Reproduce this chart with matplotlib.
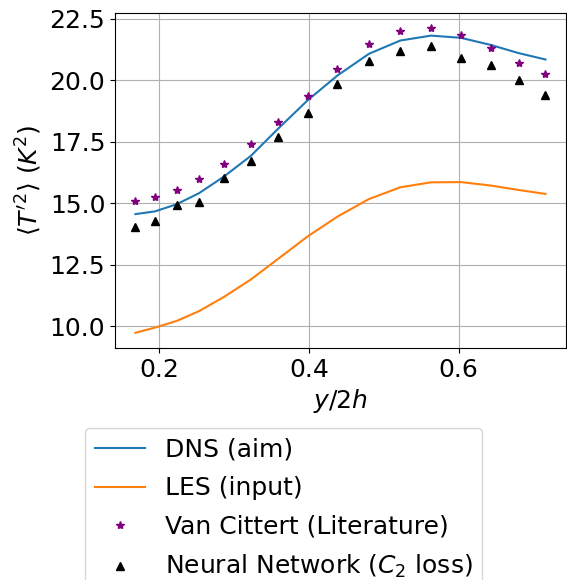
import numpy as np
import matplotlib
matplotlib.use("Agg")
import matplotlib.pyplot as plt

# wall-normal positions y/2h
y2h = [0.168, 0.194, 0.223, 0.253, 0.286, 0.322, 0.359, 0.398,
       0.438, 0.480, 0.522, 0.563, 0.603, 0.643, 0.680, 0.716]

# temperature variance <T'^2> (K^2)
dns = [14.56, 14.67, 14.96, 15.41, 16.08, 16.92, 18.04, 19.18,
       20.19, 21.07, 21.61, 21.81, 21.72, 21.43, 21.10, 20.84]
les = [9.74, 9.95, 10.22, 10.62, 11.19, 11.90, 12.75, 13.65,
       14.46, 15.17, 15.65, 15.85, 15.86, 15.72, 15.54, 15.38]
van_cittert = [15.11, 15.25, 15.53, 15.97, 16.59, 17.39, 18.29, 19.36,
               20.47, 21.48, 22.01, 22.11, 21.83, 21.30, 20.69, 20.26]
neural_net = [14.02, 14.30, 14.91, 15.04, 16.01, 16.72, 17.70, 18.68,
              19.86, 20.77, 21.18, 21.37, 20.90, 20.60, 20.02, 19.41]

plt.rcParams['font.size'] = 18

fig = plt.figure(figsize=(5.67, 5.8), dpi=100)
ax = fig.add_axes([0.2028, 0.40, 0.7954, 0.5776])

ax.plot(y2h, dns, label="DNS (aim)")
ax.plot(y2h, les, label="LES (input)")
ax.plot(y2h, van_cittert, '*', color='purple', markersize=6,
        label="Van Cittert (Literature)")
ax.plot(y2h, neural_net, '^', color='black', markersize=6,
        label="Neural Network ($C_2$ loss)")

ax.set_xlabel("$y/2h$")
ax.set_ylabel(r"$\langle T'^2 \rangle$ $(K^2)$")
ax.set_yticks([10.0, 12.5, 15.0, 17.5, 20.0, 22.5])
ax.set_xticks([0.2, 0.4, 0.6])
ax.grid(True)

# legend hangs below the axes and runs off the bottom of the figure
fig.legend(loc='upper center', bbox_to_anchor=(0.5, 0.284), labelspacing=0.58)

fig.savefig("out.png", dpi=100)
